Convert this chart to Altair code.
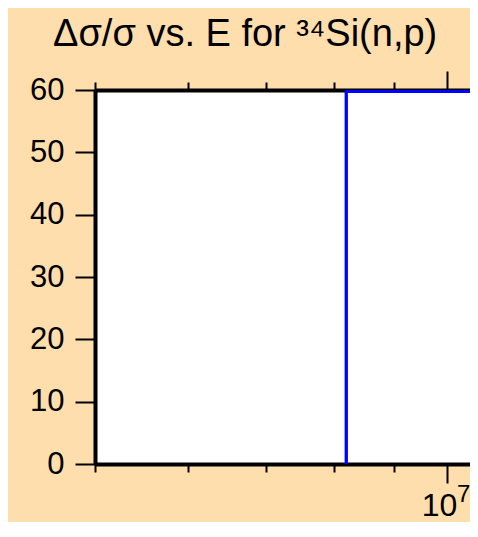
import altair as alt
import pandas as pd

# data
energy = [8.2e6, 8.2e6, 2.0e7]
rel_unc = [0.0, 59.8, 59.8]
step = [0, 1, 2]
x_ticks = [5e6, 6e6, 7e6, 8e6, 9e6, 1e7]
major_tick = [1e7]
y_ticks = [0, 10, 20, 30, 40, 50, 60]
x_domain = [5e6, 1.0462e7]
y_domain = [0, 60]
title_text = "Δσ/σ vs. E for ³⁴Si(n,p)"

df = pd.DataFrame({"E": energy, "v": rel_unc, "i": step})

FONT = "Liberation Sans"
tick_len = alt.condition("datum.value == 10000000", alt.value(19), alt.value(8))

x_scale = alt.Scale(type="log", domain=x_domain, nice=False)
y_scale = alt.Scale(domain=y_domain, nice=False, zero=False)

bottom_axis = alt.Axis(
    orient="bottom", values=x_ticks, title=None, grid=False,
    labelExpr="datum.value == 10000000 ? '10' : ''",
    labelFont=FONT, labelFontSize=32, labelColor="black", labelPadding=7,
    labelOffset=-8,
    labelOverlap=False, labelFlush=False, labelBound=False,
    domainColor="black", domainWidth=4,
    tickColor="black", tickWidth=2, tickSize=tick_len,
)
sup_axis = alt.Axis(
    orient="bottom", values=major_tick, title=None, grid=False,
    labelExpr="'7'", domain=False, ticks=False, tickSize=0,
    labelFont=FONT, labelFontSize=24, labelColor="black", labelPadding=18,
    labelOffset=16,
    labelOverlap=False, labelFlush=False, labelBound=False,
)
top_axis = alt.Axis(
    orient="top", values=x_ticks, title=None, grid=False, labels=False,
    domainColor="black", domainWidth=4,
    tickColor="black", tickWidth=2, tickSize=tick_len,
)
y_axis = alt.Axis(
    values=y_ticks, title=None, grid=False,
    labelFont=FONT, labelFontSize=31, labelColor="black", labelPadding=11,
    domainColor="black", domainWidth=4,
    tickColor="black", tickWidth=2, tickSize=20,
)

line = alt.Chart(df).mark_line(
    color="#0000ff", strokeWidth=3.3, clip=True, strokeCap="butt"
).encode(
    x=alt.X("E:Q", scale=x_scale, axis=bottom_axis),
    y=alt.Y("v:Q", scale=y_scale, axis=y_axis),
    order=alt.Order("i:Q"),
)

top = alt.Chart(df).mark_point(opacity=0, clip=True).encode(
    x=alt.X("E:Q", scale=x_scale, axis=top_axis),
)

sup = alt.Chart(df).mark_point(opacity=0, clip=True).encode(
    x=alt.X("E:Q", scale=x_scale, axis=sup_axis),
)

chart = alt.layer(line, top, sup).resolve_axis(x="independent").properties(
    width=375, height=374, autosize="none",
    padding={"left": 87, "top": 82, "right": 0, "bottom": 58},
    background="#FFDEAD",
    title=alt.TitleParams(
        text=title_text, anchor="start", frame="group", dx=-42, dy=38,
        offset=24, baseline="alphabetic", font=FONT, fontSize=38,
        fontWeight="normal", color="black",
    ),
).configure_view(fill="white", stroke=None)

chart.save("out.html", embed_options={"renderer": "svg", "actions": False})
